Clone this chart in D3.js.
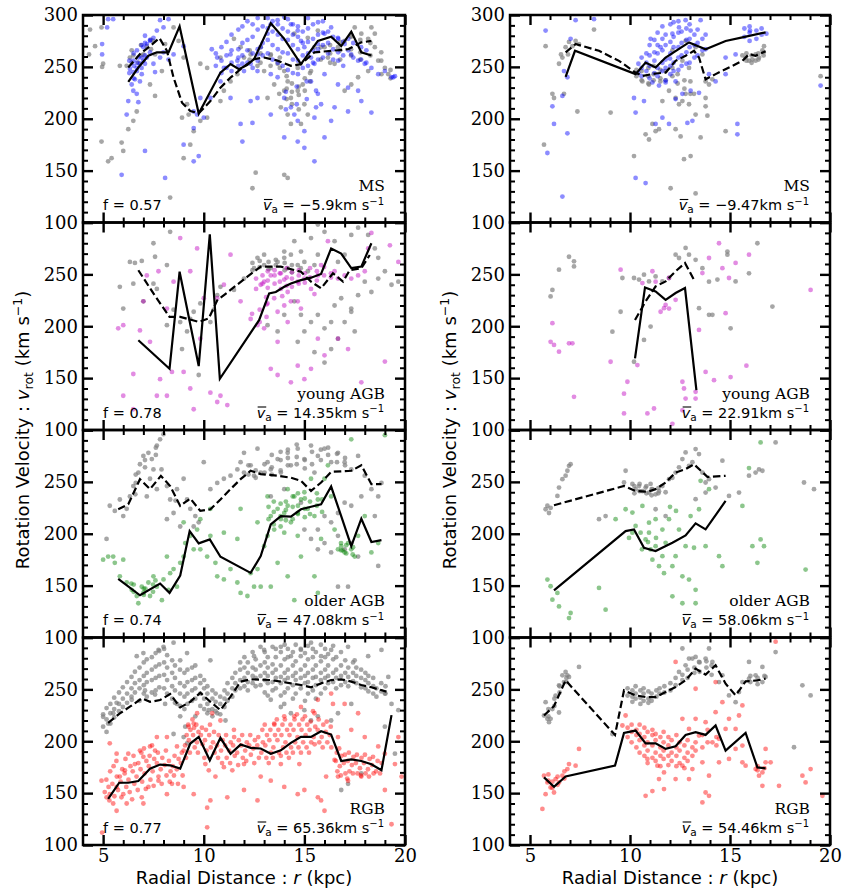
<!DOCTYPE html>
<html>
<head>
<meta charset="utf-8">
<script src="https://cdn.jsdelivr.net/npm/d3@7"></script>
<style>
  body { margin: 0; background: #fff; }
  svg { display: block; }
</style>
</head>
<body>
<svg id="fig" width="843" height="894"></svg>
<script>
// ---- labels ----
const populations = ["MS", "young AGB", "older AGB", "RGB"];
const starColors = ["#0000ff", "#bf00bf", "#008000", "#ff0000"];
const fLeft = ["0.57", "0.78", "0.74", "0.77"];
const vaLeft = ["\u22125.9", "14.35", "47.08", "65.36"];
const vaRight = ["\u22129.47", "22.91", "58.06", "54.46"];
const xTicks = [5, 10, 15, 20];
const yTicks = [100, 150, 200, 250, 300];

// Scattered stars/gas: [r (kpc), v_rot (km/s)].
// Crowded regions: [r, v1, v2, ...] (several velocities at one radius).

// ---- MS, left field ----
const msL_stars = [[5.5,296],[6.17,204],[7.08,169],[5.92,146],[8.08,143],[6.5,227],[6.67,224],[6.42,233],[6.83,236],[6.92,243],[6.5,245],[6.67,249],[6.83,253],[7,256],[7.17,259],[7,269],[7.17,272],[7.33,275],[7.5,278],[7.08,280],[7.67,285],[8,288],[8.25,296],[7.83,295],[6.75,259],[6.5,256],[6.33,248],[6.58,238],[6.25,217],[6.75,216],[7.58,245],[7.83,259],[8.5,262],[9,175],[9.5,159],[9.75,164],[9.67,204],[10,201],[9.5,207],[9.83,220],[10.4,267],[10.67,259],[11,249],[11.33,262],[11.67,256],[12,246],[12.33,253],[12.67,262],[12.83,269],[13.17,282],[13.33,291],[13.67,295],[14,298],[14.33,291],[14.67,285],[14.83,275],[15,269],[15.33,259],[15.5,253],[15.67,272],[16,282],[16.33,288],[16.67,278],[17,272],[17.33,262],[17.67,256],[18,253],[18.33,249],[18.67,243],[19.33,240],[19.5,241],[14,220],[14.33,211],[14.5,204],[14.67,198],[15.67,224],[15.83,214],[15.5,201],[16.33,198],[16.5,211],[17.17,230],[17.83,217],[18.33,206],[15.5,159],[14,182],[15,188],[12.67,220],[11.92,178],[12.42,196],[13.33,204],[10.83,236],[11.33,220],[12.67,246],[13.33,243],[13.67,240],[15.33,236],[16,243],[16.67,233],[17.67,227],[14.67,178],[15,172],[16,182],[17.17,207],[12.33,217],[11.83,195],[10.33,220],[9,270],[8,264],[7.5,253],[9.5,191],[8.25,257],[4.95,272],[4.95,262],[5.2,288],[5.25,296],[19,246],[19.42,240]];
const msL_starsCore = [[6.3,244,256],[6.52,251,263,239],[6.68,254,266,246],[6.91,259,271,249],[7.08,261,273,253],[7.33,264,276],[10.6,251,263],[10.88,256,244,269],[11.13,249,261,274],[11.38,254,266,246,281],[11.72,259,267,251,286],[11.92,261,273,253,289],[12.17,266,276,254,294],[12.43,263,279,249,291],[12.68,267,286,256,297],[12.93,273,289,261],[13.18,276,287,263,297],[13.42,271,284,257,294],[13.68,267,281,254,291],[13.92,264,277,251,287],[14.18,263,276,247,284,296],[14.43,257,271,244,281,291],[14.68,256,267,243,279,289],[14.92,261,273,249,284],[15.18,263,274,251,287,297],[15.43,266,277,254,291],[15.68,267,281,257,293],[15.92,271,283,259,294],[16.18,273,284,263],[16.43,267,279,257],[16.68,264,277,256],[16.93,261,274,251],[17.18,266,277],[17.43,259,273],[17.82,257,269],[18.08,254,266],[14.08,226,209],[14.62,214,231],[15.12,219,236],[15.58,211,227]];
const msL_gas = [[4.92,288],[5,253],[5.83,251],[4.92,178],[5.92,177],[6,169],[5.25,159],[5.42,162],[6.25,190],[6.5,198],[6.67,207],[6.17,251],[6.33,259],[6.5,261],[6.75,254],[7,262],[7.17,270],[7.5,275],[7.58,262],[7.92,246],[7.33,233],[7.58,222],[8.08,272],[8.5,288],[8.75,275],[9,259],[8.92,201],[9.17,214],[9.25,204],[9.5,188],[9.83,198],[10.17,201],[8.33,124],[9,162],[9.33,175],[9.83,253],[10.17,249],[10.83,259],[10.83,217],[11,227],[11.33,236],[11.67,243],[12,259],[12.33,262],[12.83,269],[11.5,277],[11.83,269],[13.33,262],[13.67,253],[14,246],[14.17,236],[14,227],[14.33,220],[14.67,227],[14.92,233],[15,214],[15.17,204],[13.83,211],[14.17,204],[14.83,195],[14.67,249],[15.33,246],[15.67,285],[16,269],[16.17,259],[16.5,253],[16.67,269],[17,275],[17.33,280],[17.5,288],[17.83,282],[18.17,277],[18.33,288],[18.5,282],[18.5,269],[18.67,256],[19,249],[19.17,243],[18.83,243],[18.17,246],[17.67,240],[17.33,233],[17,227],[13.17,220],[12.58,148],[12.42,133],[14,146],[14.17,143],[13,246],[12.67,251],[13.5,233],[13.75,224],[14.33,195],[14.5,282],[15.17,278],[15.5,269],[4.35,286],[4.95,250],[4.6,270],[4.3,262]];
const msL_gasCore = [[6.42,254,266],[6.88,261,271],[7.38,267,276],[12.28,257,266],[12.82,254,263],[13.32,251,261],[13.78,249,259],[14.12,241,229,219],[14.38,234,226,214],[14.72,231,223,209],[15.02,239,227],[15.28,244,236],[15.82,257,269],[16.28,263,271,254],[16.78,266,274,257],[17.32,267,279,261],[17.78,264,276,257],[18.28,261,273],[18.82,256,264],[19.28,247,239]];
const msL_starCurve = [[6.25,235.5],[6.75,249.4],[7.25,260.7],[7.67,264],[8.25,264],[8.8,289],[9.75,205],[10.83,244.5],[11.33,252.6],[11.75,247.8],[12.17,252],[12.5,257.5],[13.33,292],[14,277],[14.83,252.6],[15.67,275],[16.33,279],[16.83,270],[17.33,284],[17.83,264],[18.33,261]];
const msL_gasCurve = [[6.25,249.4],[6.83,262.3],[7.33,270],[7.8,277.8],[8.17,265.5],[8.5,239.7],[8.92,215.5],[9.33,207.5],[9.75,205.2],[10.33,217],[10.83,230],[11.33,239.7],[11.83,247.8],[12.5,257.5],[13,259],[13.67,256],[14.33,251],[14.83,252.6],[15.5,264],[16.33,265.5],[17.17,267],[17.83,273.6],[18.33,275]];

// ---- young AGB, left field ----
const yaL_stars = [[5.75,198],[6,201],[6.5,154],[6.83,196],[7,224],[7.33,185],[7.75,253],[7.83,149],[8.17,133],[8.42,156],[8.5,243],[8.83,285],[9,156],[9.33,253],[9.33,140],[9.67,275],[9.83,188],[10,227],[10.33,136],[10.83,133],[11.17,124],[10.67,227],[11,240],[11.33,269],[11.83,224],[12.33,207],[12.67,201],[13,198],[12.83,240],[13.33,249],[13.5,227],[13.67,214],[13.83,251],[14,245],[14.17,233],[14.33,224],[14.67,224],[14.67,243],[15,246],[15.33,236],[15.67,249],[15.83,259],[16.17,282],[16.5,253],[16.67,246],[17,249],[17.33,246],[17.67,249],[18,253],[18.17,275],[18.33,290],[19.25,278],[19.67,262],[13.33,159],[13.67,153],[14.33,146],[14.67,162],[15,149],[15.33,159],[15.67,188],[16,172],[16.67,188],[17.17,178],[17.83,146],[19,166],[14.17,204],[13.67,185],[10.67,127],[9.5,120],[6.5,120],[6,133],[7.67,133],[8.17,217],[7.17,249],[13.17,222],[14,220],[14.83,217],[13,243],[13.83,236],[12.4,212],[13.1,228],[13.9,229],[15.5,231]];
const yaL_starsCore = [[12.6,236,246],[12.92,241,249],[13.18,244,253,237],[13.52,249,241,254],[13.78,251,243],[14.12,247,239,256],[14.38,246,252,238],[14.72,249,241,254],[15.02,251,242],[15.28,247,256],[15.62,253,244],[15.98,249,257],[16.32,251,247],[12.78,204,216],[13.12,209,221]];
const yaL_gas = [[5.83,238],[6,217],[6.33,262],[6.58,261],[6.92,263],[6.5,241],[7,224],[7.5,280],[7.58,267],[7.5,241],[7.67,236],[8.17,259],[8.17,201],[8.33,291],[8.5,216],[8.83,204],[8.92,178],[9.17,195],[9.33,207],[9.5,214],[9.83,222],[9.75,153],[10.33,204],[10.5,216],[10.67,230],[10.83,238],[11.5,235],[12,246],[12.5,256],[12.67,266],[13,259],[13.33,256],[13.67,262],[14,266],[14.17,256],[14.33,269],[14.67,259],[14.83,272],[15,262],[15.17,253],[15.5,259],[15.67,269],[15.33,285],[15.67,298],[16,291],[16.5,282],[16.67,262],[17,269],[17.33,288],[17.67,295],[18.17,288],[18.5,275],[18.67,266],[19,253],[19.33,240],[19.67,243],[18,243],[17.67,230],[17.33,217],[16.83,227],[16.5,220],[16.33,204],[16,198],[15.67,211],[15.33,204],[15,195],[14.83,211],[14.67,185],[15.5,175],[16,165],[16.33,178],[16.67,188],[17,204],[17.33,214],[17.5,195],[14.5,224],[14,211],[13.67,195],[13.17,201],[13,269],[14,272],[14.5,282],[18.33,233],[18.67,246]];
const yaL_gasCore = [[12.42,254,261],[12.78,257,263],[13.22,255,262],[13.58,259,264],[14.02,254,261],[14.38,252,259],[14.82,256]];
const yaL_starCurve = [[6.75,186.5],[8.3,159],[8.8,252.6],[9.75,161.6],[10.3,288.7],[10.8,149.4],[12.75,205.8],[13.25,231.6],[13.58,233],[14,238],[14.33,241.3],[14.83,244.5],[15.33,246.8],[15.83,250.4],[16.33,275],[16.83,270],[17.33,256],[17.83,257.5],[18.33,280]];
const yaL_gasCurve = [[6.75,254],[7.5,231.6],[8.3,209],[8.83,209],[9.75,204.2],[10.25,207.5],[10.67,225],[11.33,235],[12.17,247.8],[12.83,257.5],[13.83,257.5],[14.83,252.6],[15.33,243],[15.83,236.5],[16.42,251],[16.92,243],[17.25,254],[17.83,256],[18.25,268.7]];

// ---- older AGB, left field ----
const oaL_stars = [[5.25,178],[5.58,172],[5.83,159],[6.17,153],[6.42,146],[6.67,140],[6.75,133],[6.92,149],[7,143],[7.25,153],[7.33,140],[7.5,159],[7.67,149],[7.92,136],[8,156],[8.25,146],[8.33,162],[8.5,166],[8.67,149],[8.83,172],[9,178],[9.08,191],[9.33,198],[9.67,204],[9.83,185],[10.17,178],[10.33,198],[10.58,172],[10.67,159],[11,156],[11.33,166],[11.67,153],[11.83,143],[12.17,140],[12.5,149],[12.67,166],[13,188],[13.17,198],[13.33,217],[13.5,204],[13.67,224],[13.83,214],[14,220],[14.17,227],[14.33,211],[14.5,236],[14.67,220],[14.83,233],[15,240],[15.17,224],[15.33,253],[15.5,217],[15.67,233],[15.83,195],[16,253],[16.17,266],[16.33,236],[16.5,204],[16.67,185],[16.83,188],[17,182],[17.17,191],[17.33,185],[17.5,178],[17.67,198],[18,217],[18.33,182],[18.67,191],[19,295],[17.33,291],[15.5,159],[14.83,178],[14.17,159],[13.67,172],[12.83,149],[12.33,162],[10.33,224],[9.83,214],[9,211],[11,201],[11.67,195],[11.83,224],[12.67,211],[13.17,236],[14,201],[14.67,198],[13.33,149],[14.5,136],[15.67,143],[6,175],[5.5,178],[5,175],[8.17,178],[9.5,185],[14.17,243],[6.4,152],[7.1,147],[7.6,155],[16.9,184],[17.4,180]];
const oaL_starsCore = [[13.22,214,226],[13.48,221,209,231],[13.82,217,229,207],[14.08,223,231,213],[14.42,226,214,236],[14.68,227,219,239],[15.02,224,234,216],[15.28,231,219],[15.62,227,239],[15.88,233,221],[16.82,184,191],[17.08,181,189],[17.42,187],[6.52,144,151],[7.02,147,141],[7.48,151,144]];
const oaL_gas = [[5.33,227],[5.58,222],[5.83,233],[6,217],[6.17,224],[6.33,236],[6.5,246],[6.75,259],[6.83,267],[7,275],[7.25,278],[7.42,272],[7.5,262],[7.67,285],[7.83,291],[8,296],[7.33,253],[7.17,236],[7.67,243],[8.17,246],[8.33,233],[8.5,220],[8.17,214],[8.67,243],[9,253],[9.17,233],[9.33,224],[9.58,217],[9.75,211],[10,269],[10.33,243],[10.67,249],[11,253],[11.33,256],[11.67,262],[11.83,269],[12,259],[12.33,266],[12.5,256],[12.83,259],[13.17,269],[13.33,262],[13.67,272],[13.83,259],[14.17,278],[14.33,266],[14.67,282],[15,272],[15.33,285],[15.5,259],[15.67,275],[16,282],[16.33,269],[16.67,278],[17,269],[17.33,262],[17.67,275],[18,256],[18.33,243],[18.67,236],[18.83,249],[18.5,217],[17.83,236],[17.33,227],[17,230],[16.67,220],[16.33,211],[16,217],[15.67,204],[16,191],[16.33,182],[16.67,198],[17,185],[17.33,191],[17.67,178],[15.67,185],[15.33,195],[15,204],[14.83,230],[14,243],[13.33,236],[12,278],[12.67,282],[16.67,149],[17.17,149],[18.67,169],[5.17,195],[9.5,207],[8.83,207],[6.6,238],[7.9,262],[8.6,232]];
const oaL_gasCore = [[12.22,257,266],[12.58,261,254],[13.02,259,267],[13.38,257,264,276],[13.82,261,271,279],[14.18,266,273,281],[14.62,267,274,286],[15.02,263,271],[15.38,267,279],[15.82,271,281],[16.18,276,283],[16.62,269,277],[17.02,266,273],[6.62,249,257],[7.08,264,271],[7.62,276,283]];
const oaL_starCurve = [[5.75,156.5],[6.83,140.7],[7.83,152],[8.3,143],[8.83,159.7],[9.3,202.6],[9.75,190.7],[10.3,194.5],[10.83,177.8],[12.33,162.3],[12.83,178.4],[13.33,209],[13.83,217],[14.33,216.5],[14.83,223.6],[15.33,226],[15.83,228.4],[16.33,245.5],[16.83,217],[17.33,188],[17.83,214.5],[18.33,192],[18.83,193.9]];
const oaL_gasCurve = [[5.75,223.6],[6.25,228.4],[6.83,252.6],[7.33,243],[7.87,255.8],[8.33,246],[8.83,226.8],[9.33,234],[9.83,222],[10.33,223.6],[10.83,233],[11.33,243],[11.83,252.6],[12.33,260.7],[12.83,257.5],[13.67,256],[14.33,254],[14.83,251],[15.33,241.3],[15.83,249.4],[16.33,259.7],[17.33,260.7],[17.83,266],[18.33,247.8],[18.83,247.8]];

// ---- RGB, left field ----
const rgbL_stars = [[4.92,162],[5.17,146],[5.33,149],[5.5,140],[5.67,156],[5.83,166],[6,149],[6.08,172],[6.25,188],[6.58,178],[6.92,146],[7,185],[7.25,156],[7.58,191],[7.75,162],[8.42,159],[9,191],[9.25,214],[9.5,217],[10.08,178],[10.25,172],[10.42,227],[10.58,166],[10.83,220],[11,175],[11.42,172],[11.5,211],[12,178],[12.83,166],[13.5,217],[13.83,178],[14.5,224],[14.75,178],[15.5,227],[16.08,166],[16.42,236],[16.5,182],[16.67,166],[17.17,162],[17.83,166],[15.67,146],[16,133],[15.83,143],[15,153],[14.67,149],[14,156],[13.33,162],[12,153],[12.67,143],[11.17,146],[10.33,143],[10.17,136],[9.5,149],[9,156],[8.17,149],[7,140],[6.17,140],[5.67,133],[5.33,198],[19.67,204],[19.5,178],[19,153],[19.83,166],[10.17,117],[19.33,120],[14,224],[14.83,233],[15.67,240],[16.33,246],[17,236],[17.67,227],[16.67,204],[17.33,211],[18,204],[18.67,195],[19,188],[8.67,195],[8.17,204],[7.67,204],[7.33,195],[6.83,191],[5.67,188],[9.67,227],[4.95,112]];
const rgbL_starsCore = [[5.08,151],[5.16,163],[5.27,156],[5.35,171],[5.31,143],[5.46,159],[5.56,147],[5.52,176],[5.68,166],[5.74,153],[5.66,181],[5.87,161],[5.95,173],[5.91,146],[6.07,169],[6.15,156],[6.11,183],[6.26,163],[6.36,176],[6.32,151],[6.47,171],[6.55,159],[6.51,186],[6.44,144],[6.66,166],[6.75,179],[6.72,153],[6.86,173],[6.94,161],[6.9,189],[7.06,169],[7.15,181],[7.12,154],[7.03,193],[7.27,176],[7.35,163],[7.31,186],[7.46,171],[7.54,183],[7.51,157],[7.43,196],[7.67,179],[7.75,166],[7.72,189],[7.86,173],[7.94,184],[7.91,159],[8.06,177],[8.15,167],[8.12,191],[8.27,181],[8.35,171],[8.31,161],[8.46,176],[8.55,186],[8.52,167],[8.66,173],[8.75,183],[8.72,159],[8.86,179],[8.95,167],[8.91,189],[9.07,196],[9.15,206],[9.12,184],[9.26,201],[9.34,211],[9.31,189],[9.23,216],[9.47,206],[9.55,194],[9.52,213],[9.44,221],[9.66,199],[9.74,209],[9.71,189],[9.63,216],[9.86,206],[9.94,197],[9.91,213],[10.06,201],[10.14,191],[10.11,211],[10.03,184],[10.27,206],[10.35,194],[10.31,216],[10.46,199],[10.54,189],[10.51,209],[10.66,196],[10.74,206],[10.71,184],[10.86,191],[10.94,201],[10.91,179],[11.06,196],[11.14,184],[11.11,206],[11.26,191],[11.34,199],[11.31,179],[11.46,196],[11.54,186],[11.51,204],[11.66,189],[11.74,201],[11.71,177],[11.86,196],[11.94,184],[11.91,206],[12.06,191],[12.14,199],[12.11,181],[12.26,196],[12.34,187],[12.31,206],[12.46,193],[12.54,201],[12.51,179],[12.66,196],[12.74,184],[12.71,204],[12.86,189],[12.94,199],[12.91,211],[13.06,196],[13.14,206],[13.11,184],[13.03,216],[13.26,201],[13.34,189],[13.31,211],[13.23,179],[13.46,194],[13.54,206],[13.51,216],[13.43,184],[13.66,201],[13.74,189],[13.71,211],[13.63,221],[13.86,206],[13.94,194],[13.91,216],[13.83,186],[14.06,199],[14.14,211],[14.11,189],[14.03,221],[14.26,206],[14.34,194],[14.31,216],[14.23,184],[14.46,211],[14.54,199],[14.51,221],[14.43,189],[14.66,204],[14.74,216],[14.71,194],[14.63,226],[14.86,211],[14.94,199],[14.91,221],[14.83,189],[15.06,206],[15.14,216],[15.11,194],[15.03,224],[15.26,211],[15.34,199],[15.31,219],[15.23,189],[15.46,204],[15.54,214],[15.51,197],[15.43,229],[15.66,211],[15.74,199],[15.71,221],[15.86,204],[15.94,216],[15.91,194],[16.06,209],[16.14,199],[16.11,219],[16.26,206],[16.34,194],[16.31,214],[16.56,181],[16.64,171],[16.61,189],[16.76,176],[16.84,186],[16.81,167],[16.73,193],[16.96,179],[17.04,169],[17.01,187],[17.16,181],[17.24,171],[17.21,189],[17.13,164],[17.36,177],[17.44,185],[17.41,169],[17.56,179],[17.64,169],[17.61,187],[17.76,174],[17.84,184],[17.81,167],[17.96,179],[18.04,169],[18.01,187],[18.16,173],[18.24,183],[18.21,166],[18.36,177],[18.44,169],[18.41,185],[18.56,171],[18.64,181],[18.76,169],[18.84,179]];
const rgbL_gas = [[5,223.6],[5.25,217],[5.5,227],[5.67,237],[6.42,240],[7.08,249],[7.58,245],[8.08,236],[8.67,236],[8.83,224],[9.08,214],[9.58,224],[10.25,230],[10.67,227],[11.08,220],[12.5,282],[13,288],[13.83,291],[14.33,282],[14.83,288],[15.33,295],[15.83,282],[16.33,288],[17.17,291],[17.5,278],[18.17,282],[18.83,288],[19,246],[19.17,262],[19.33,236],[19.67,230],[14,236],[14.33,227],[15,230],[15.67,224],[16.33,220],[13.83,233],[15.33,220],[16.67,227],[17.33,236],[13.33,240],[17.17,159],[16.83,153],[17.83,169],[19,214],[19.5,188],[6.67,282],[7,285],[8,291],[8.83,278],[9.17,285],[10.33,278],[9,204],[9.17,198],[8.5,207],[8.5,295],[7.75,288]];
const rgbL_gasCore = [[5.0,214,226],[5.17,221,232,209],[5.36,227,236,217],[5.55,231,242,223],[5.79,236,247,229],[5.98,241,252,233],[6.19,246,257,237],[6.41,251,262,243],[6.58,256,267,247],[6.81,259,271,251,239],[7.02,263,276,254,246],[7.17,266,279,257,243],[7.42,269,281,259,247],[7.61,272,285,261,249],[7.79,274,287,263,252],[8.03,276,289,264,251],[8.18,271,283,259,246],[8.43,266,278,253,241],[8.57,261,273,249,237],[8.82,256,269,246,234],[9.04,253,266,243,231],[9.19,257,269,246,236],[9.42,259,271,249,239],[9.58,261,273,251,241],[9.83,263,256,246,234],[10.02,259,251,241,231],[10.18,253,246,236,227],[10.43,249,241,231,224],[10.59,246,238,229],[10.82,243,236,226],[11.03,241,233,249],[11.18,246,239,256],[11.42,251,243,261],[11.57,256,249,266],[11.81,259,251,269,276],[12.02,261,253,271,281],[12.19,257,266,276,249],[12.43,263,256,271,286],[12.58,261,269,279,253],[12.82,263,254,273,291],[13.03,266,259,276,286,247],[13.18,263,271,281,256,244],[13.42,266,257,274,291,249],[13.58,269,261,281,289,251],[13.83,262,273,286,256,244],[14.02,266,259,279,293,247],[14.18,269,261,281,289,251],[14.43,263,273,286,254,241],[14.57,266,259,277,293,246],[14.82,269,261,282,289,251],[15.03,263,273,285,256,239],[15.18,266,257,279,292,246],[15.42,269,261,281,289,249],[15.57,262,273,286,254,241],[15.82,266,259,277,293,246],[16.03,269,261,281,289,251],[16.18,263,273,284,256],[16.43,266,257,279,292],[16.58,269,261,281,251],[16.82,263,273,286,254],[17.03,266,257,278],[17.18,262,271,253],[17.42,258,266,276],[17.58,256,263,271],[17.82,252,261,269],[18.03,251,259,266],[18.18,248,256,263],[18.42,253,246,261],[18.58,251,243],[18.82,248,256],[19.03,246,253]];
const rgbL_starCurve = [[5.25,144.5],[5.8,160],[6.25,160],[6.75,161.6],[7.33,173.6],[7.83,177.5],[8.33,176.8],[8.83,173.6],[9.33,197.8],[9.75,204.2],[10.3,181.6],[10.83,203.3],[11.33,188],[11.83,196.8],[12.33,193.6],[12.83,193],[13.33,188],[13.83,191.3],[14.33,198.4],[14.83,204.2],[15.33,204.2],[15.83,209.7],[16.33,206.5],[16.83,181],[17.33,182.6],[17.83,181],[18.33,177.8],[18.83,172],[19.33,225.2]];
const rgbL_gasCurve = [[5.25,217.8],[5.83,226.8],[6.33,233.3],[6.92,241.3],[7.33,238],[7.83,239.7],[8.33,245.5],[8.83,232.6],[9.33,238],[9.83,246.8],[10.33,238],[10.83,230],[11.33,243],[11.83,257.5],[12.33,259.7],[13.33,259],[14.33,255.8],[14.83,254.2],[15.33,252],[15.83,255.8],[16.33,259],[16.83,259.7],[17.33,257.5],[17.83,254.2],[18.33,252],[19.08,247.8]];

// ---- MS, right field ----
const msR_stars = [[5.78,285],[6.12,212],[6.2,195],[6.62,222],[6.62,125],[6.87,186],[5.87,167],[7.03,277],[7.28,295],[6.7,246],[6.87,240],[8.2,296],[10.28,143],[10.78,138],[10.2,220],[10.28,206],[10.7,217],[11.28,195],[11.62,201],[11.95,195],[12.87,196],[13.12,198],[12.28,219],[12.62,224],[13.03,227],[13.45,225],[13.95,243],[14.28,236],[14.78,243],[15.37,195],[15.37,185],[19.53,232],[11.03,277],[11.53,269],[12.12,282],[12.45,288],[12.78,295],[13.03,285],[13.53,295],[11.45,232],[11.78,235],[12.28,236],[11.12,235],[14.78,259],[15.28,262],[12.0,258],[16.0,285]];
const msR_starsCore = [[10.42,244,253],[10.58,241,249,259],[10.82,246,254,263],[10.98,239,251,261,271],[11.22,244,256,264,276],[11.38,241,249,263,271,283],[11.62,246,254,266,277,289],[11.78,237,249,257,271,281],[12.02,243,251,263,274,291],[12.18,246,254,269,279,293],[12.42,247,259,269,283,294],[12.58,251,261,273,284],[12.82,253,264,276,287],[12.98,254,269,277,291],[13.22,259,271,281],[13.38,261,273,286],[13.62,266,277],[13.78,267,281],[15.72,279,287],[15.98,283,275,289],[16.32,285,277],[16.58,287,281],[16.82,282]];
const msR_gas = [[5.78,270],[5.7,175],[6.12,224],[6.2,220],[6.7,224],[6.45,253],[6.62,259],[6.78,269],[6.95,274],[7.12,270],[7.28,275],[7.45,272],[7.37,207],[9.03,206],[8.2,286],[10.2,164],[10.62,236],[10.95,233],[11.12,195],[11.28,188],[10.78,185],[11.45,190],[10.95,180],[11.62,217],[11.95,227],[12.28,220],[12.45,214],[12.62,217],[12.78,224],[12.95,214],[13.2,224],[13.28,204],[13.78,220],[13.78,212],[13.87,203],[13.53,182],[13.03,164],[12.7,161],[12.53,183],[12.28,190],[12.03,133],[13.28,128],[13.78,236],[13.95,233],[14.12,238],[12.62,256],[12.95,249],[13.62,262],[13.28,269],[15.62,261],[15.78,259],[15.95,256],[16.12,257],[16.28,256],[16.45,259],[16.62,266],[16.7,270],[16.28,262],[19.53,241],[14.78,188],[12.12,266],[12.78,275],[6.55,262],[6.9,262]];
const msR_gasCore = [[10.32,241,247],[10.58,237,246],[10.92,241,249,234],[11.18,243,251,237],[11.52,239,247,236],[11.78,237,246],[12.12,241,249],[12.38,243,234],[12.72,237,229],[13.02,236,224],[15.82,256,263],[16.08,254,261],[16.42,257,263],[16.68,261,264]];
const msR_starCurve = [[6.78,240.4],[7.25,265.5],[10.28,243],[10.78,254.2],[11.28,249.4],[11.78,259],[12.95,273.6],[13.78,267],[14.78,275],[15.62,278.4],[16.78,283.3]];
const msR_gasCurve = [[6.78,264],[7.28,272],[8.45,265.5],[9.45,255.8],[10.28,244.5],[10.62,241.3],[11.28,243.6],[11.78,244.5],[12.28,255.8],[12.78,260.7],[13.2,265.5],[13.45,259],[13.78,238],[14.28,243],[14.95,249.4],[15.62,255.8],[15.95,262.3],[16.28,260.7],[16.78,265]];

// ---- young AGB, right field ----
const yaR_stars = [[6.12,203],[6.03,185],[6.2,182],[6.45,175.5],[6.95,183.5],[7.12,183.5],[7.2,132],[9.53,254.5],[9.03,165.8],[9.87,146.5],[9.7,135],[10.37,162.6],[10.62,241.6],[11.12,253],[11.28,243],[11.53,214],[11.7,217.4],[11.78,220.6],[11.95,217],[12.28,225.5],[11.95,246.5],[12.62,146.5],[12.7,140],[12.78,130.3],[13.28,130.3],[13.62,251.3],[13.95,265.8],[14.45,280],[14.62,256],[14.95,246.5],[15.28,261],[14.78,212.6],[13.78,156],[13.45,196.5],[14.2,148],[15.03,151],[15.82,162],[15.95,269],[19.03,235],[10.87,116],[11.2,120.7],[12.12,106],[12.62,119],[13.28,136.8],[9.7,116]];
const yaR_starsCore = [];
const yaR_gas = [[6.45,254.5],[6.95,267],[7.2,262.6],[7.2,257.7],[6.12,235],[6.03,228.7],[9.12,194.8],[9.53,214],[9.62,246.5],[10.2,246.5],[10.45,245],[10.7,249.7],[10.95,243.2],[11.28,248],[11.62,243.2],[11.95,246.5],[12.28,269],[12.45,265.8],[12.78,275.5],[12.95,269],[13.28,264],[13.62,256],[13.95,243],[13.95,211],[14.12,211],[13.45,217.4],[14.37,245],[14.87,272],[14.87,269],[15.03,198],[15.28,243.2],[15.95,251],[16.37,280],[17.12,219],[10.7,186.8],[11.03,199.7],[10.2,165.8]];
const yaR_gasCore = [];
const yaR_starCurve = [[10.25,169],[10.75,237.4],[11.28,233.5],[11.78,225.5],[12.28,232],[12.75,236.8],[13.32,138.4]];
const yaR_gasCurve = [[10.25,206],[10.78,224],[11.28,238.4],[11.78,243.2],[12.28,253],[12.75,261],[13.2,244.8]];

// ---- older AGB, right field ----
const oaR_stars = [[5.87,155.8],[6.03,149.4],[6.12,136.5],[6.37,143],[6.45,130],[7.03,123.6],[6.95,118.7],[8.45,147.8],[8.78,126.8],[9.28,214],[9.78,223.6],[9.95,196],[10.12,220.4],[10.28,207.5],[10.53,201],[10.62,226.8],[10.78,194.5],[10.95,201],[11.03,184.9],[11.12,175],[11.28,188],[11.45,168.7],[11.62,178.4],[11.7,162],[11.78,191.3],[11.95,214],[12.12,168.7],[12.28,178.4],[12.45,204],[12.62,159],[12.78,188],[12.95,155.8],[13.2,186.5],[13.28,146],[13.45,223.6],[13.53,251],[13.78,188],[13.95,243],[14.45,178.4],[14.62,168.7],[15.62,226.8],[15.95,263.3],[16.12,188],[16.53,194.5],[16.53,288],[16.7,188],[16.37,172],[18.78,165.5],[12.62,133],[13.28,133],[12.12,139.7],[11.28,214],[10.95,210.7],[10.12,201],[13.03,217],[11.62,204],[10.9,192],[11.3,196],[10.6,185],[12.3,222],[12.0,226]];
const oaR_starsCore = [];
const oaR_gas = [[5.78,223.6],[5.95,220],[6.03,225],[5.87,227],[6.37,236.5],[6.45,244.5],[6.62,252.6],[6.78,256],[6.87,260.7],[6.95,265.5],[7.03,267],[8.45,214],[8.78,217],[9.7,249.4],[9.78,260.7],[10.12,248],[10.28,243],[10.45,246],[10.62,241],[10.78,244.5],[10.95,239.7],[11.03,248],[11.12,243],[11.28,238],[11.45,241],[11.62,246],[11.78,240],[11.95,252.6],[12.12,254],[12.28,259],[12.45,264],[12.62,272],[12.78,278.4],[12.95,265.5],[13.12,269],[13.28,281.6],[13.45,276.8],[13.62,259],[13.78,249.4],[13.95,252.6],[14.28,244.5],[14.62,270.4],[14.95,236.5],[15.45,239.7],[15.95,256],[16.28,259],[16.45,262],[16.62,260.7],[17.28,288],[18.7,249.4],[19.2,243],[11.28,223.6],[11.78,217],[13.28,233.3],[13.78,239.7]];
const oaR_gasCore = [[10.22,246,239],[10.48,241,248],[10.82,239,246],[11.08,243,237],[11.42,244,239]];
const oaR_starCurve = [[6.2,145.5],[9.78,202.6],[10.2,204.2],[10.7,186.5],[11.28,183.3],[12.12,191.3],[12.78,198.4],[13.28,210],[13.78,204.2],[14.78,231.6]];
const oaR_gasCurve = [[6.2,227.5],[9.7,246],[10.28,241.3],[10.87,240.4],[11.28,243],[11.78,249.4],[12.28,259],[12.78,262.3],[13.2,267],[13.87,254.8],[14.78,255.8]];

// ---- RGB, right field ----
const rgbR_stars = [[5.7,166.8],[5.87,160.3],[6.03,155.5],[6.2,150.6],[5.78,149],[6.28,163.5],[6.62,166.8],[6.87,173.2],[6.95,178],[6.45,160.3],[5.62,134.8],[7.45,192.6],[9.62,215.2],[9.78,224.8],[10.87,183],[11.37,176.5],[11.7,170],[12.62,176.5],[13.12,173.2],[13.45,205.5],[13.62,179.7],[13.78,218.4],[13.95,166.8],[14.12,199],[14.28,228],[14.45,179.7],[14.78,211.9],[14.95,183],[15.28,192.6],[15.45,224.8],[15.62,234.5],[15.78,176.5],[16.28,173.2],[16.45,166.8],[16.62,170],[16.78,179.7],[16.78,192.6],[17.28,296],[17.45,157],[18.62,166.8],[18.78,160.3],[19.03,173.2],[19.62,147.4],[10.78,147.4],[11.12,152],[11.7,153.9],[13.78,150.6],[13.62,141],[13.95,147.4],[12.95,211.9],[13.28,221.6],[12.62,221.6],[11.45,163.5],[12.28,163.5],[12.95,163.5],[14.45,202.3],[15.28,211.9],[15.62,195.8],[12.28,276.5],[13.28,250.6],[14.28,257],[14.62,237.7],[14.95,221.6],[7.28,176.5],[16.62,157],[17.03,179.7],[15.62,179.7]];
const rgbR_starsCore = [[9.88,204,213],[10.08,199,209,216],[10.32,194,206,211],[10.48,201,189,207,216],[10.72,196,204,186,213],[10.88,191,199,209,179],[11.12,196,206,184,211],[11.28,189,201,181,207],[11.52,194,186,204,176],[11.68,191,199,183,209],[11.92,186,196,177,204],[12.08,189,201,181],[12.32,186,194,176,206],[12.48,191,179,199],[12.72,184,196,174],[12.88,189,181,201],[13.12,186,194],[13.28,191,199],[13.62,194,206],[13.88,199,211],[14.32,204,196],[5.92,162,168],[6.12,155,161],[6.38,158,166],[6.72,164,171],[16.38,172,176],[16.72,174]];
const rgbR_gas = [[5.7,224.8],[5.78,237.7],[5.87,221.6],[5.95,218.4],[6.03,221.6],[6.12,231],[6.28,244],[6.45,253.9],[6.62,263.5],[6.78,266.8],[6.87,263.5],[6.7,257],[6.95,262],[7.45,271.6],[6.45,227.7],[9.12,207],[12.45,266.8],[12.78,273.2],[13.12,279.7],[13.45,276.5],[13.78,279.7],[14.12,276.5],[14.45,257],[14.95,244.2],[15.28,237.7],[15.45,247.4],[15.62,257],[15.95,260.3],[16.28,263.5],[16.62,257],[16.78,262],[17.28,286],[18.62,253.9],[19.03,244.2],[18.2,194.2],[12.62,289.4],[12.95,279.7],[13.28,281.3],[13.95,289.4],[14.62,263.5],[15.95,276.5],[16.62,271.6]];
const rgbR_gasCore = [[9.88,244,251],[10.12,243,249,238],[10.28,246,241,253],[10.52,242,249,236],[10.68,246,239,251],[10.92,241,248,237],[11.08,239,246],[11.32,243,249],[11.48,246,251],[11.72,247,253],[12.02,249,256],[12.28,254,261],[12.62,259,264],[12.88,261,269],[13.22,266,271],[13.48,267,276],[13.82,271,277],[14.08,273,264],[5.92,224,231],[6.22,234,241],[6.48,247,253],[6.82,261,257],[16.02,257,263],[16.38,261,255],[16.72,263]];
const rgbR_starCurve = [[5.7,165.2],[6.2,156.1],[6.78,166.1],[9.25,176.5],[9.7,208],[10.28,210.3],[10.78,198],[11.28,198],[11.78,192.6],[12.28,195.2],[12.78,206.1],[13.28,208.7],[13.78,206.1],[14.28,215.2],[14.78,191],[15.78,208],[16.37,174.8],[16.78,173.9]];
const rgbR_gasCurve = [[5.7,224.8],[6.2,233.9],[6.78,258.7],[9.25,206.1],[9.7,249],[10.28,244.2],[10.78,242.6],[11.28,242.6],[11.78,247.4],[12.28,252.3],[12.78,258.7],[13.28,270],[13.78,264.2],[14.28,273.2],[14.78,255.5],[15.28,244.2],[15.78,257.7],[16.37,258.7],[16.78,260.3]];

// ---- assemble the 4x2 grid ----
const expand = groups => groups.flatMap(([r, ...vs]) => vs.map(v => [r, v]));
const fieldStars = [
  [msL_stars.concat(expand(msL_starsCore)), msR_stars.concat(expand(msR_starsCore))],
  [yaL_stars.concat(expand(yaL_starsCore)), yaR_stars.concat(expand(yaR_starsCore))],
  [oaL_stars.concat(expand(oaL_starsCore)), oaR_stars.concat(expand(oaR_starsCore))],
  [rgbL_stars.concat(expand(rgbL_starsCore)), rgbR_stars.concat(expand(rgbR_starsCore))]
];
const fieldGas = [
  [msL_gas.concat(expand(msL_gasCore)), msR_gas.concat(expand(msR_gasCore))],
  [yaL_gas.concat(expand(yaL_gasCore)), yaR_gas.concat(expand(yaR_gasCore))],
  [oaL_gas.concat(expand(oaL_gasCore)), oaR_gas.concat(expand(oaR_gasCore))],
  [rgbL_gas.concat(expand(rgbL_gasCore)), rgbR_gas.concat(expand(rgbR_gasCore))]
];
const starCurves = [[msL_starCurve, msR_starCurve], [yaL_starCurve, yaR_starCurve], [oaL_starCurve, oaR_starCurve], [rgbL_starCurve, rgbR_starCurve]];
const gasCurves = [[msL_gasCurve, msR_gasCurve], [yaL_gasCurve, yaR_gasCurve], [oaL_gasCurve, oaR_gasCurve], [rgbL_gasCurve, rgbR_gasCurve]];

const cols = [[83, 405], [510, 830]];
const rowTop = 15, rowH = 207.5;
const serif = "'DejaVu Serif', serif";
const sans = "'DejaVu Sans', sans-serif";

const svg = d3.select("#fig");
const defs = svg.append("defs");

function styleAxis(sel, width) {
  sel.select(".domain").remove();
  sel.selectAll(".tick line").attr("stroke", "#000").attr("stroke-width", width);
  sel.selectAll(".tick text").attr("font-family", serif).attr("font-size", 18).attr("fill", "#000");
}

for (let row = 0; row < 4; row++) {
  for (let col = 0; col < 2; col++) {
    const [x0, x1] = cols[col];
    const top = rowTop + row * rowH, bot = top + rowH;
    const x = d3.scaleLinear().domain([4, 20]).range([x0, x1]);
    const y = d3.scaleLinear().domain([100, 300]).range([bot, top]);
    const id = `clip-${row}-${col}`;
    defs.append("clipPath").attr("id", id).append("rect")
      .attr("x", x0).attr("y", top).attr("width", x1 - x0).attr("height", rowH);

    const g = svg.append("g");
    const plot = g.append("g").attr("clip-path", `url(#${id})`);

    plot.selectAll("circle.gas").data(fieldGas[row][col]).join("circle")
      .attr("class", "gas")
      .attr("cx", d => x(d[0])).attr("cy", d => y(d[1])).attr("r", 2.4)
      .attr("fill", "#808080").attr("fill-opacity", 0.7);
    plot.selectAll("circle.star").data(fieldStars[row][col]).join("circle")
      .attr("class", "star")
      .attr("cx", d => x(d[0])).attr("cy", d => y(d[1])).attr("r", 2.4)
      .attr("fill", starColors[row]).attr("fill-opacity", 0.45);

    const line = d3.line().x(d => x(d[0])).y(d => y(d[1]));
    plot.append("path").datum(gasCurves[row][col]).attr("d", line)
      .attr("fill", "none").attr("stroke", "#000").attr("stroke-width", 2.2)
      .attr("stroke-dasharray", "7.5,3.5");
    plot.append("path").datum(starCurves[row][col]).attr("d", line)
      .attr("fill", "none").attr("stroke", "#000").attr("stroke-width", 2.2);

    // ticks, all pointing inward
    const xMinor = d3.range(5, 20).filter(v => v % 5 !== 0);
    const yMinor = d3.range(110, 300, 10).filter(v => v % 50 !== 0);
    const yLabels = row === 0 ? yTicks : yTicks.filter(v => v < 300);

    g.append("g").attr("transform", `translate(0,${bot})`)
      .call(d3.axisBottom(x).tickValues(xTicks).tickSizeInner(-10).tickSizeOuter(0).tickPadding(4)
        .tickFormat(row === 3 ? d3.format("d") : () => ""))
      .call(s => styleAxis(s, 2.4));
    g.append("g").attr("transform", `translate(0,${bot})`)
      .call(d3.axisBottom(x).tickValues(xMinor).tickSizeInner(-5).tickSizeOuter(0).tickFormat(() => ""))
      .call(s => styleAxis(s, 2));
    g.append("g").attr("transform", `translate(0,${top})`)
      .call(d3.axisTop(x).tickValues(xTicks).tickSizeInner(-10).tickSizeOuter(0).tickFormat(() => ""))
      .call(s => styleAxis(s, 2.4));
    g.append("g").attr("transform", `translate(0,${top})`)
      .call(d3.axisTop(x).tickValues(xMinor).tickSizeInner(-5).tickSizeOuter(0).tickFormat(() => ""))
      .call(s => styleAxis(s, 2));
    g.append("g").attr("transform", `translate(${x0},0)`)
      .call(d3.axisLeft(y).tickValues(yTicks).tickSizeInner(-10).tickSizeOuter(0).tickPadding(5)
        .tickFormat(v => yLabels.includes(v) ? String(v) : ""))
      .call(s => styleAxis(s, 2.4));
    g.append("g").attr("transform", `translate(${x0},0)`)
      .call(d3.axisLeft(y).tickValues(yMinor).tickSizeInner(-5).tickSizeOuter(0).tickFormat(() => ""))
      .call(s => styleAxis(s, 2));
    g.append("g").attr("transform", `translate(${x1},0)`)
      .call(d3.axisRight(y).tickValues(yTicks).tickSizeInner(-10).tickSizeOuter(0).tickFormat(() => ""))
      .call(s => styleAxis(s, 2.4));
    g.append("g").attr("transform", `translate(${x1},0)`)
      .call(d3.axisRight(y).tickValues(yMinor).tickSizeInner(-5).tickSizeOuter(0).tickFormat(() => ""))
      .call(s => styleAxis(s, 2));

    g.append("rect").attr("x", x0).attr("y", top).attr("width", x1 - x0).attr("height", rowH)
      .attr("fill", "none").attr("stroke", "#000").attr("stroke-width", 2.5);

    // panel annotations
    g.append("text").attr("x", x1 - 20).attr("y", top + 176)
      .attr("text-anchor", "end").attr("font-family", serif).attr("font-size", 15.5)
      .text(populations[row]);

    const va = g.append("text").attr("x", x1 - 21).attr("y", top + 195)
      .attr("text-anchor", "end").attr("font-family", sans).attr("font-size", 14.5);
    va.append("tspan").attr("font-style", "italic").text("v");
    va.append("tspan").attr("font-size", 10.5).attr("dy", 3).text("a");
    va.append("tspan").attr("dy", -3).text(` = ${col === 0 ? vaLeft[row] : vaRight[row]}km s`);
    va.append("tspan").attr("font-size", 10).attr("dy", -5.5).text("\u22121");
    const ext = va.node().getExtentOfChar(0);
    g.append("line")
      .attr("x1", ext.x + 1).attr("x2", ext.x + ext.width + 1)
      .attr("y1", top + 184.5).attr("y2", top + 184.5)
      .attr("stroke", "#000").attr("stroke-width", 1.1);

    if (col === 0) {
      g.append("text").attr("x", x0 + 20).attr("y", top + 195)
        .attr("font-family", sans).attr("font-size", 14.5)
        .text(`f = ${fLeft[row]}`);
    }
  }
}

// axis titles
cols.forEach(([x0, x1]) => {
  const xt = svg.append("text").attr("x", (x0 + x1) / 2).attr("y", 884)
    .attr("text-anchor", "middle").attr("font-family", sans).attr("font-size", 18);
  xt.append("tspan").text("Radial Distance : ");
  xt.append("tspan").attr("font-style", "italic").text("r");
  xt.append("tspan").text(" (kpc)");

  const yt = svg.append("text")
    .attr("transform", `translate(${x0 - 54},${rowTop + 2 * rowH}) rotate(-90)`)
    .attr("text-anchor", "middle").attr("font-family", sans).attr("font-size", 18);
  yt.append("tspan").text("Rotation Velocity : ");
  yt.append("tspan").attr("font-style", "italic").text("v");
  yt.append("tspan").attr("font-size", 12.5).attr("dy", 4).text("rot");
  yt.append("tspan").attr("dy", -4).text(" (km s");
  yt.append("tspan").attr("font-size", 12.5).attr("dy", -7).text("\u22121");
  yt.append("tspan").attr("dy", 7).text(")");
});
</script>
</body>
</html>
